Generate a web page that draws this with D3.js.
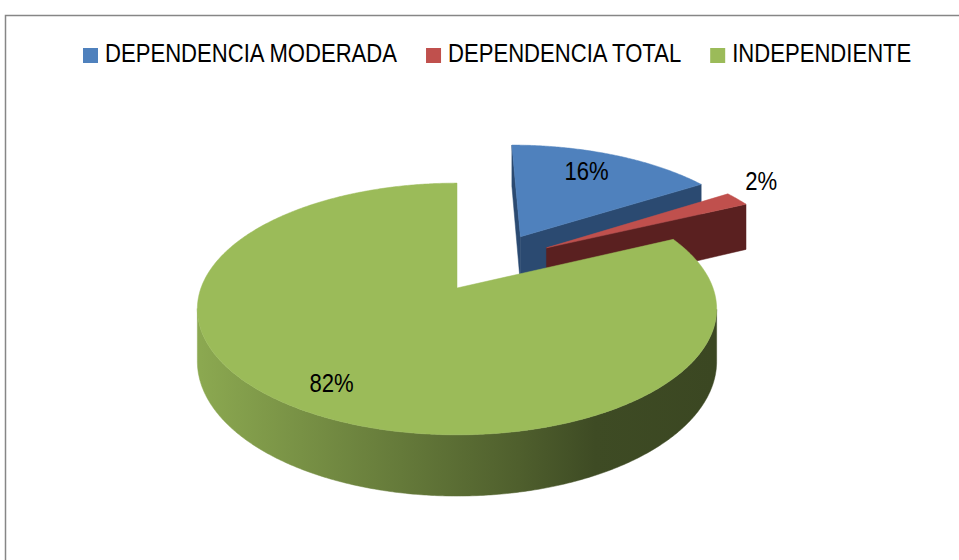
<!DOCTYPE html>
<html><head><meta charset="utf-8">
<script src="https://cdn.jsdelivr.net/npm/d3@7"></script>
<style>html,body{margin:0;padding:0;background:#fff;} svg{display:block;}</style>
</head><body>
<svg id="chart" width="959" height="560"></svg>
<script>
// ---------- data ----------
const categories = ["DEPENDENCIA MODERADA", "DEPENDENCIA TOTAL", "INDEPENDIENTE"];
const values = [16, 2, 82];
const labels = ["16%", "2%", "82%"];
const topColors = ["#4F81BD", "#C0504D", "#9BBB59"];
const wallColors = ["#2B4A71", "#5A2020", "#4A5C29"];

// ---------- setup ----------
const svg = d3.select("#chart");
const FONT = "'Liberation Sans', Arial, sans-serif";
const FS = 26, SX = 0.85;

svg.append("path").attr("d", "M5.5,560V15.5H959")
  .attr("fill", "none").attr("stroke", "#868686").attr("stroke-width", 1.5);

// ---------- 3D projection ----------
const R = 256, D = 6 * R, K = 0.478, T = 51, CX = 457, CY = 288, EXPLODE = 67;
function proj(g, h) { const s = D / (D - g[1]); return [CX + g[0] * s, CY + (g[1] * K - h) * s]; }
const dir = a => [Math.sin(a), -Math.cos(a)];

const pie = d3.pie().sort(null).value(d => d)(values);
const anchorIdx = values.indexOf(d3.max(values));
const ab = (pie[anchorIdx].startAngle + pie[anchorIdx].endAngle) / 2;
const trueC = [-EXPLODE * dir(ab)[0], -EXPLODE * dir(ab)[1]];
const slices = pie.map((p, i) => {
  const b = (p.startAngle + p.endAngle) / 2;
  const c = [trueC[0] + EXPLODE * dir(b)[0], trueC[1] + EXPLODE * dir(b)[1]];
  return { i, p, b, c };
});
const gpt = (sl, a, r) => [sl.c[0] + r * Math.sin(a), sl.c[1] - r * Math.cos(a)];
const line = d3.line();
function area2(pts) { let s = 0; for (let i = 0; i < pts.length; i++) { const a = pts[i], b = pts[(i + 1) % pts.length]; s += a[0] * b[1] - b[0] * a[1]; } return s / 2; }
function quad(P, Q) { return [proj(P, 0), proj(Q, 0), proj(Q, -T), proj(P, -T)]; }

// gradients for outer walls
const defs = svg.append("defs");
const gStops = [[0, 0.3], [0.39, 1.2], [0.62, 1.9], [0.77, 2.55], [1, 2.7]];
topColors.forEach((col, i) => {
  const g = defs.append("linearGradient").attr("id", "wall" + i)
    .attr("gradientUnits", "userSpaceOnUse")
    .attr("x1", CX - R).attr("x2", CX + R).attr("y1", 0).attr("y2", 0);
  gStops.forEach(([o, k]) => g.append("stop").attr("offset", o).attr("stop-color", d3.color(col).darker(k)));
});

const layer = svg.append("g");
const order = slices.slice().sort((a, b) => a.c[1] - b.c[1]);
order.forEach(sl => {
  const a0 = sl.p.startAngle, a1 = sl.p.endAngle;
  const n = Math.max(8, Math.ceil((a1 - a0) / (Math.PI / 360)));
  const angs = d3.range(n + 1).map(j => a0 + (a1 - a0) * j / n);
  // outer wall (visible runs)
  let run = null; const runs = [];
  for (let j = 0; j < n; j++) {
    const q = quad(gpt(sl, angs[j], R), gpt(sl, angs[j + 1], R));
    const vis = area2(q) < 0;
    if (vis) { if (!run) { run = [j, j + 1]; runs.push(run); } else run[1] = j + 1; }
    else run = null;
  }
  runs.forEach(([s, e]) => {
    const top = [], bot = [];
    for (let j = s; j <= e; j++) { const g = gpt(sl, angs[j], R); top.push(proj(g, 0)); bot.push(proj(g, -T)); }
    layer.append("path").attr("d", line(top.concat(bot.reverse())) + "Z")
      .attr("fill", `url(#wall${sl.i})`).attr("stroke", `url(#wall${sl.i})`).attr("stroke-width", 0.5);
  });
  // radial walls
  const apex = sl.c;
  [[apex, gpt(sl, a0, R)], [gpt(sl, a1, R), apex]].forEach(([P, Q]) => {
    const q = quad(P, Q);
    if (area2(q) < 0) {
      layer.append("path").attr("d", line(q) + "Z")
        .attr("fill", wallColors[sl.i]).attr("stroke", wallColors[sl.i]).attr("stroke-width", 0.5);
    }
  });
  // top face
  const topPts = [proj(apex, 0)].concat(angs.map(a => proj(gpt(sl, a, R), 0)));
  layer.append("path").attr("d", line(topPts) + "Z")
    .attr("fill", topColors[sl.i]).attr("stroke", topColors[sl.i]).attr("stroke-width", 0.5);
});

// ---------- data labels ----------
slices.forEach(sl => {
  const share = sl.p.value / d3.sum(values);
  let x, y, anchor;
  if (share < 0.05) {
    const q = proj(gpt(sl, sl.b, R), 0);
    x = q[0] + 8; y = q[1] - 9; anchor = "start";
  } else {
    const a = sl.i === anchorIdx ? sl.b : sl.p.startAngle + 0.45 * (sl.p.endAngle - sl.p.startAngle);
    const r = sl.i === anchorIdx ? 0.81 * R : 0.77 * R;
    const q = proj(gpt(sl, a, r), 0);
    x = q[0]; y = q[1] + 0.36 * FS; anchor = "middle";
  }
  svg.append("g").attr("transform", `translate(${x},${y}) scale(${SX},1)`)
    .append("text").attr("text-anchor", anchor)
    .attr("font-family", FONT).attr("font-size", FS).attr("fill", "#000")
    .text(labels[sl.i]);
});

// ---------- legend ----------
let lx = 83;
categories.forEach((c, i) => {
  svg.append("rect").attr("x", lx).attr("y", 48).attr("width", 15).attr("height", 15).attr("fill", topColors[i]);
  const g = svg.append("g").attr("transform", `translate(${lx + 22},62) scale(${SX},1)`);
  const t = g.append("text").attr("font-family", FONT).attr("font-size", FS).attr("fill", "#000").text(c);
  const w = t.node().getComputedTextLength() * SX;
  lx += 22 + w + 29;
});
</script>
</body></html>
